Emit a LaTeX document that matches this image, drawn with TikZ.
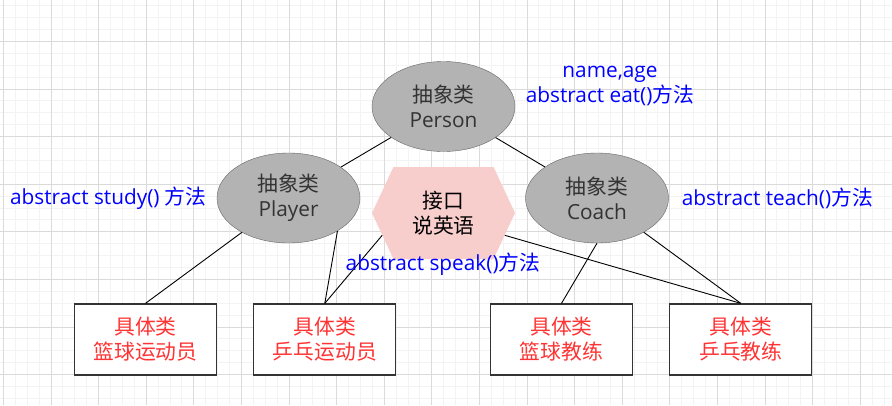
\documentclass[tikz,border=0pt]{standalone}
\usepackage{fontspec}
\setmainfont{Open Sans}
\newfontfamily\cjk{Noto Sans CJK SC}
\usetikzlibrary{shapes.geometric, shapes.symbols, positioning}
\definecolor{abstractgray}{RGB}{179, 179, 179}
\definecolor{bordergray}{RGB}{102, 102, 102}
\definecolor{textgray}{RGB}{51, 51, 51}
\definecolor{ifacepink}{RGB}{248, 206, 204}
\definecolor{concretered}{RGB}{255, 51, 51}
\definecolor{methodblue}{RGB}{0, 0, 255}
\definecolor{gridminor}{RGB}{243, 243, 243}
\definecolor{gridmajor}{RGB}{218, 218, 218}
\newcommand{\zh}[1]{{\cjk #1}}

\tikzset{
  abstractcls/.style={ellipse, draw=bordergray, fill=abstractgray, text=textgray, minimum width=143pt, minimum height=90pt, inner sep=0pt, align=center},
  iface/.style={signal, signal to=west and east, signal pointer angle=130, fill=ifacepink, minimum width=143pt, minimum height=92pt, inner sep=0pt, align=center},
  concrete/.style={rectangle, draw=textgray, line width=1.3pt, fill=white, text=concretered, minimum width=142pt, minimum height=71pt, inner sep=0pt, align=center},
  method/.style={text=methodblue, inner sep=0pt, align=center},
  link/.style={draw=black, line width=0.9pt}
}

\begin{document}
\begin{tikzpicture}[x=1pt, y=-1pt, font=\fontsize{20.8}{25}\selectfont]
    \useasboundingbox (0,0) rectangle (892,405);
    \fill[white] (0,0) rectangle (892,405);
    % background grid
    \foreach \i in {0,...,74} {
        \draw[gridminor, line width=0.8pt] ({3.3+11.9*\i},0) -- ({3.3+11.9*\i},405);
    }
    \foreach \i in {0,...,33} {
        \draw[gridminor, line width=0.8pt] (0,{5.6+11.9*\i}) -- (892,{5.6+11.9*\i});
    }
    \foreach \i in {0,...,18} {
        \draw[gridmajor, line width=0.8pt] ({3.3+47.6*\i},0) -- ({3.3+47.6*\i},405);
    }
    \foreach \i in {1,...,8} {
        \draw[gridmajor, line width=0.8pt] (0,{-6.3+47.6*\i}) -- (892,{-6.3+47.6*\i});
    }

    \node[abstractcls] (person) at (443.5, 106.5) {\zh{抽象类}\\Person};
    \node[abstractcls] (player) at (288.5, 198) {\zh{抽象类}\\Player};
    \node[abstractcls] (coach) at (597, 198) {\zh{抽象类}\\Coach};
    \node[iface] (speak) at (443.5, 213) {\zh{接口}\\\zh{说英语}};

    \node[concrete] (basketplayer) at (145.5, 339.5) {\zh{具体类}\\\zh{篮球运动员}};
    \node[concrete, right=36pt of basketplayer] (pingplayer) {\zh{具体类}\\\zh{乒乓运动员}};
    \node[concrete] (basketcoach) at (561.5, 339.5) {\zh{具体类}\\\zh{篮球教练}};
    \node[concrete, right=36pt of basketcoach] (pingcoach) {\zh{具体类}\\\zh{乒乓教练}};

    \draw[link] (person) -- (player);
    \draw[link] (person) -- (coach);
    \draw[link] (player) -- (basketplayer.north);
    \draw[link] (player.-34) -- (pingplayer.north);
    \draw[link] (speak.200) -- (pingplayer.north);
    \draw[link] (speak.-20) -- (pingcoach.north);
    \draw[link] (coach.south) -- (basketcoach.north);
    \draw[link] (coach) -- (pingcoach.north);

    \node[method] (personfields) at (610, 85.5) {name,age\\abstract eat()\zh{方法}};
    \node[method, left=10pt of player] (studymethod) {abstract study() \zh{方法}};
    \node[method, right=13pt of coach] (teachmethod) {abstract teach()\zh{方法}};
    \node[method] (speakmethod) at (443, 264) {abstract speak()\zh{方法}};
\end{tikzpicture}
\end{document}
